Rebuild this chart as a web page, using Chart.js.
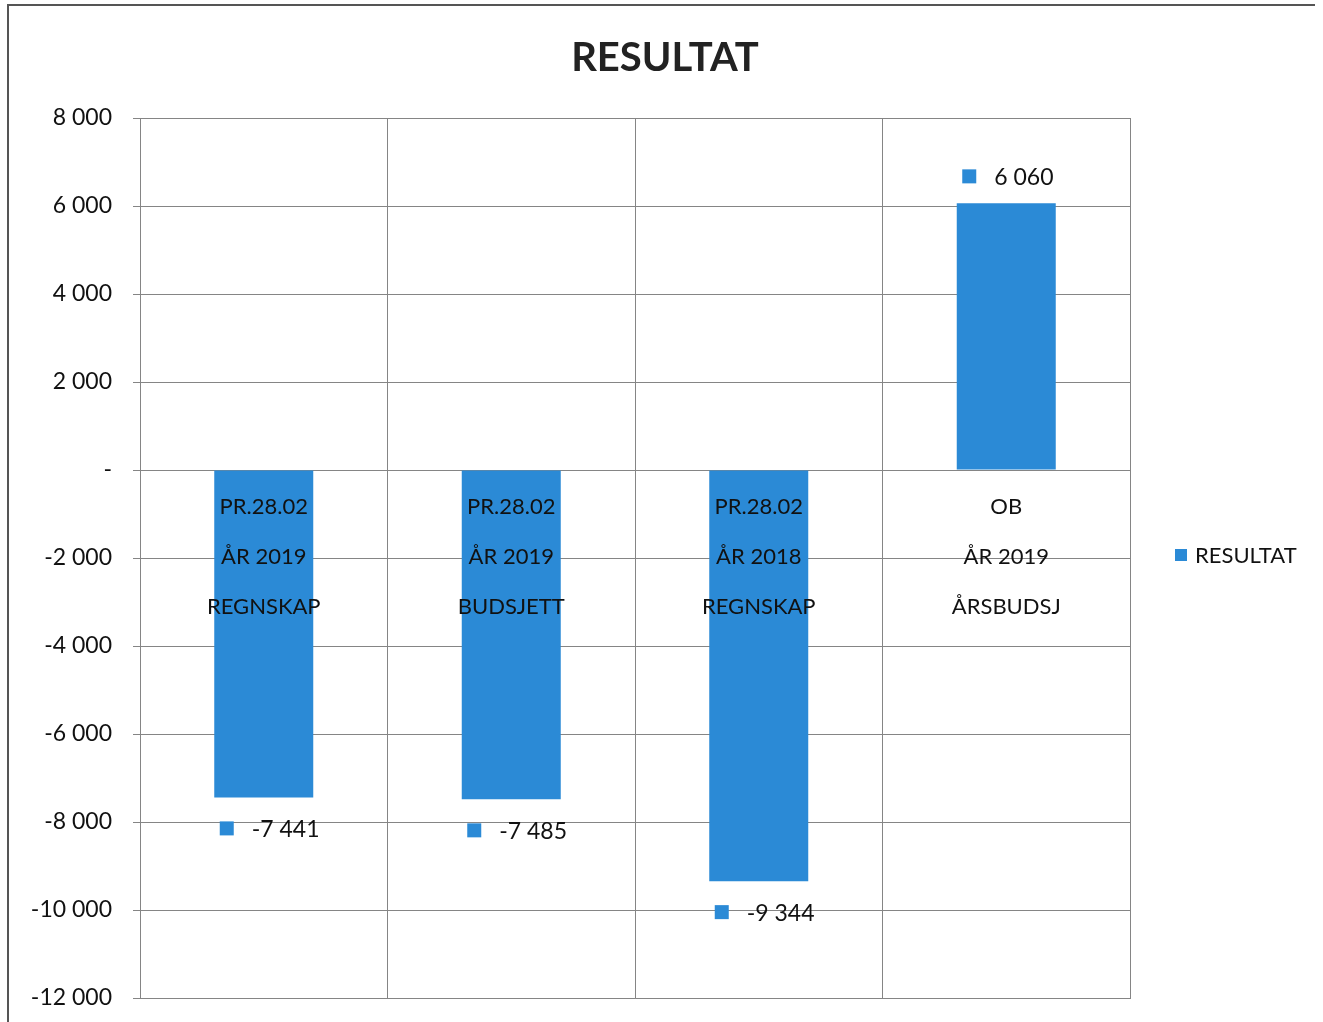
<!DOCTYPE html>
<html>
<head>
<meta charset="utf-8">
<script src="https://cdn.jsdelivr.net/npm/chart.js@4.4.0/dist/chart.umd.min.js"></script>
<style>
  html, body { margin: 0; padding: 0; background: #fff; }
  #wrap { width: 1323px; height: 1022px; position: relative; }
</style>
</head>
<body>
<div id="wrap"><canvas id="resultChart" width="1323" height="1022"></canvas></div>
<script>
// kategorier (tre linjer per søyle) og verdier
const categories = [
    ['PR.28.02', 'ÅR 2019', 'REGNSKAP'],
    ['PR.28.02', 'ÅR 2019', 'BUDSJETT'],
    ['PR.28.02', 'ÅR 2018', 'REGNSKAP'],
    ['OB', 'ÅR 2019', 'ÅRSBUDSJ']
];
const resultat = [-7441, -7485, -9344, 6060];
const yTicks = [-12000, -10000, -8000, -6000, -4000, -2000, 0, 2000, 4000, 6000, 8000];

const barColor = '#2b8ad6';
const textColor = '#111';
const gridColor = '#858585';
const font = 'Lato, "Open Sans", sans-serif';

function fmt(v) {
    const s = Math.abs(v).toString().replace(/\B(?=(\d{3})+(?!\d))/g, ' ');
    return (v < 0 ? '-' : '') + s;
}

// ramme rundt diagrammet (bare topp og venstre synlig i skannet) + tittel
const framePlugin = {
    id: 'frame',
    beforeDraw(chart) {
        const c = chart.ctx;
        c.save();
        c.fillStyle = '#fff';
        c.fillRect(0, 0, chart.width, chart.height);
        c.strokeStyle = '#555';
        c.lineWidth = 2;
        c.beginPath();
        c.moveTo(8, 1022);
        c.lineTo(8, 5);
        c.lineTo(1315, 5);
        c.stroke();
        c.font = 'bold 40px ' + font;
        c.fillStyle = '#222';
        c.textAlign = 'center';
        c.textBaseline = 'middle';
        c.fillText('RESULTAT', 665, 58);
        c.restore();
    }
};

// kategoritekst inne i plottet, under nullinjen
const catLabelPlugin = {
    id: 'catLabels',
    afterDatasetsDraw(chart) {
        const c = chart.ctx;
        const x = chart.scales.x;
        const y0 = chart.scales.y.getPixelForValue(0);
        c.save();
        c.font = '22px ' + font;
        c.fillStyle = textColor;
        c.textAlign = 'center';
        c.textBaseline = 'middle';
        categories.forEach((lines, i) => {
            const cx = x.getPixelForValue(i);
            lines.forEach((ln, j) => c.fillText(ln, cx, y0 + 37 + j * 50));
        });
        c.restore();
    }
};

// dataetiketter med liten fargeboks foran
const valueLabelPlugin = {
    id: 'valueLabels',
    afterDatasetsDraw(chart) {
        const c = chart.ctx;
        const meta = chart.getDatasetMeta(0);
        c.save();
        c.font = '23px ' + font;
        c.textBaseline = 'middle';
        c.textAlign = 'left';
        meta.data.forEach((bar, i) => {
            const v = resultat[i];
            const ly = v < 0 ? bar.y + 31 : bar.y - 27;
            c.fillStyle = barColor;
            c.fillRect(bar.x - 44, ly - 7, 14, 14);
            c.fillStyle = textColor;
            c.fillText(fmt(v), bar.x - 12, ly + 1);
        });
        c.restore();
    }
};

// forklaring til høyre
const legendPlugin = {
    id: 'sideLegend',
    afterDraw(chart) {
        const c = chart.ctx;
        const ds = chart.data.datasets[0];
        const ly = 555;
        c.save();
        c.fillStyle = ds.backgroundColor;
        c.fillRect(1175, ly - 6, 12, 12);
        c.font = '22px ' + font;
        c.fillStyle = textColor;
        c.textBaseline = 'middle';
        c.fillText(ds.label, 1195, ly + 1);
        c.restore();
    }
};

const ctx = document.getElementById('resultChart').getContext('2d');
const resultChart = new Chart(ctx, {
    type: 'bar',
    data: {
        labels: categories.map(l => l.join(' ')),
        datasets: [{
            label: 'RESULTAT',
            data: resultat,
            backgroundColor: barColor,
            categoryPercentage: 1,
            barPercentage: 0.4
        }]
    },
    options: {
        responsive: false,
        animation: false,
        devicePixelRatio: 1,
        layout: { padding: { left: 0, right: 193, top: 118, bottom: 24 } },
        plugins: {
            legend: { display: false },
            tooltip: { enabled: false },
            title: { display: false }
        },
        scales: {
            x: {
                ticks: { display: false },
                grid: { color: gridColor, lineWidth: 1, drawTicks: false, offset: true },
                border: { color: gridColor },
                afterFit(scale) { scale.height = 0; scale.paddingLeft = 0; scale.paddingRight = 0; }
            },
            y: {
                min: -12000,
                max: 8000,
                afterBuildTicks(scale) { scale.ticks = yTicks.map(v => ({ value: v })); },
                ticks: {
                    color: textColor,
                    padding: 21,
                    font: { family: font, size: 23 },
                    callback: v => v === 0 ? '-' : fmt(v)
                },
                grid: { color: gridColor, lineWidth: 1, tickLength: 7 },
                border: { color: gridColor },
                afterFit(scale) { scale.width = 140; scale.paddingTop = 0; scale.paddingBottom = 0; }
            }
        }
    },
    plugins: [framePlugin, catLabelPlugin, valueLabelPlugin, legendPlugin]
});
</script>
</body>
</html>
